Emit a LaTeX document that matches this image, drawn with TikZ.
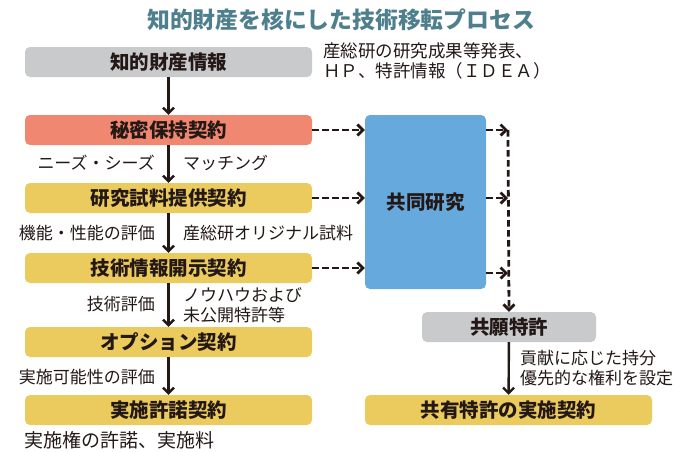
\documentclass[tikz,border=0pt]{standalone}
\usepackage{fontspec}
\newfontfamily\jp{Noto Sans CJK JP}
\usetikzlibrary{arrows.meta}
\definecolor{titleteal}{HTML}{4E7F8C}
\definecolor{boxgray}{HTML}{C9CACB}
\definecolor{boxsalmon}{HTML}{F08770}
\definecolor{boxyellow}{HTML}{EBCB5E}
\definecolor{boxblue}{HTML}{66A9DC}
\definecolor{ink}{HTML}{231815}
\begin{document}
\begin{tikzpicture}[x=1pt,y=-1pt,
    box/.style={rounded corners=5pt, minimum height=30pt, inner sep=0pt,
      font=\jp\bfseries\fontsize{19.5}{19.5}\selectfont, text=ink},
    note/.style={font=\jp\fontsize{17}{20}\selectfont, text=ink, inner sep=0pt},
    flow/.style={-{Straight Barb[length=5.5pt,width=11pt]}, line width=2.4pt, draw=ink},
    link/.style={flow, line width=2.8pt, dash pattern=on 6.5pt off 3.5pt}]
  \useasboundingbox (0,0) rectangle (691,451);
  % title
  \node[font=\jp\bfseries\fontsize{22.8}{22.8}\selectfont, text=titleteal] (title) at (341,20) {知的財産を核にした技術移転プロセス};
  % left column
  \node[box, fill=boxgray, minimum width=287pt] (info) at (168.5,62) {知的財産情報};
  \node[box, fill=boxsalmon, minimum width=287pt] (nda) at (168.5,130) {秘密保持契約};
  \node[box, fill=boxyellow, minimum width=287pt] (mta) at (168.5,198) {研究試料提供契約};
  \node[box, fill=boxyellow, minimum width=287pt] (tda) at (168.5,268) {技術情報開示契約};
  \node[box, fill=boxyellow, minimum width=287pt] (opt) at (168.5,342) {オプション契約};
  \node[box, fill=boxyellow, minimum width=287pt] (lic) at (168.5,410) {実施許諾契約};
  % right column
  \node[box, fill=boxblue, minimum width=121pt, minimum height=174pt] (joint) at (425.5,202) {共同研究};
  \node[box, fill=boxgray, minimum width=174pt] (pat) at (509,327) {共願特許};
  \node[box, fill=boxyellow, minimum width=287pt] (jlic) at (508.5,410) {共有特許の実施契約};
  \coordinate (j1) at (508,130);
  \coordinate (j2) at (508,198);
  \coordinate (j3) at (508,273);
  % labels
  \node[note, anchor=west, align=left, font=\jp\fontsize{17.5}{20}\selectfont] (src) at (323,61) {産総研の研究成果等発表、\\ＨＰ、特許情報（ＩＤＥＡ）};
  \node[note, anchor=east] (needs) at (155,163) {ニーズ・シーズ};
  \node[note, anchor=west] (match) at (183,163) {マッチング};
  \node[note, anchor=east] (func) at (155,233) {機能・性能の評価};
  \node[note, anchor=west] (orig) at (183,233) {産総研オリジナル試料};
  \node[note, anchor=east] (teval) at (155,304) {技術評価};
  \node[note, anchor=west, align=left] (know) at (183,305) {ノウハウおよび\\未公開特許等};
  \node[note, anchor=east] (feas) at (155,377) {実施可能性の評価};
  \node[note, anchor=west, font=\jp\fontsize{19}{19}\selectfont] (grant) at (24,440) {実施権の許諾、実施料};
  \node[note, anchor=west, align=left] (share) at (520,368) {貢献に応じた持分\\優先的な権利を設定};
  % arrows
  \draw[flow] (info) -- (nda);
  \draw[flow] (nda) -- (mta);
  \draw[flow] (mta) -- (tda);
  \draw[flow] (tda) -- (opt);
  \draw[flow] (opt) -- (lic);
  \draw[flow] (pat) -- (jlic);
  \begin{scope}[link]
    \draw (nda.east) -- (nda -| joint.west);
    \draw (mta.east) -- (mta -| joint.west);
    \draw (tda.east) -- (tda -| joint.west);
    \draw (j1 -| joint.east) -- (j1);
    \draw (j2 -| joint.east) -- (j2);
    \draw (j3 -| joint.east) -- (j3);
    \draw (j1) -- (pat.north);
  \end{scope}
\end{tikzpicture}
\end{document}
